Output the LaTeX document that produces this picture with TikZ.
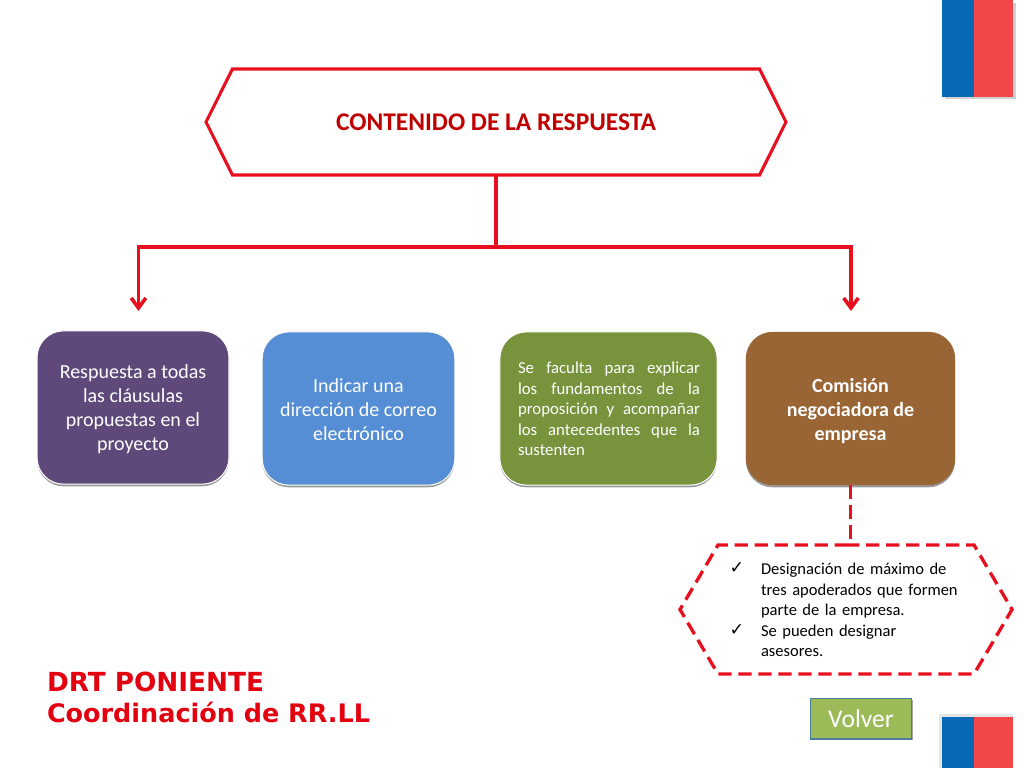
\documentclass[tikz,border=0pt]{standalone}
\usepackage{fontspec}
\setmainfont{Carlito}
\newfontfamily\checkfont{DejaVu Sans}
\newfontfamily\footfont{DejaVu Sans}
\usetikzlibrary{arrows.meta,shadows,shapes.symbols}
\definecolor{RespRed}{HTML}{E8101E}
\definecolor{RespTitle}{HTML}{C00000}
\definecolor{RespFoot}{HTML}{E3000F}
\definecolor{RespPurple}{HTML}{5F497A}
\definecolor{RespBlue}{HTML}{558ED5}
\definecolor{RespGreen}{HTML}{77933C}
\definecolor{RespBrown}{HTML}{996535}
\definecolor{RespVolver}{HTML}{9BBB59}
\definecolor{RespVolverEdge}{HTML}{4A7E9B}
\definecolor{FlagBlue}{HTML}{0569B5}
\definecolor{FlagRed}{HTML}{F24649}
\tikzset{
    resp/diagram/.style={
        x=0.75pt, y=-0.75pt,
        line cap=butt,
        every node/.style={inner sep=0pt, outer sep=0pt}
    },
    resp/hexa/.style={
        shape=signal, signal to=west and east, draw=RespRed,
        line width=2.3pt, fill=white
    },
    resp/link/.style={draw=RespRed, line width=2.3pt},
    resp/arrow/.style={
        resp/link, -{Straight Barb[length=7.5pt, width=11pt, line width=2.7pt]}
    },
    resp/dash/.style={draw=RespRed, line width=2.5pt, dash pattern=on 10pt off 5pt},
    resp/card/.style={
        rounded corners=20pt, draw=white, line width=0.8pt,
        drop shadow={shadow xshift=0pt, shadow yshift=-1.6pt, opacity=0.4, fill=black},
        text=white, font=\fontsize{15pt}{18pt}\selectfont, align=center
    },
    resp/check/.style={font=\checkfont\fontsize{13pt}{14pt}\selectfont},
    resp/foot/.style={anchor=west, text=RespFoot, font=\footfont\fontsize{#1}{22pt}\selectfont\bfseries},
    resp/flag/.style={minimum height=#1*0.75pt, anchor=north west},
    resp/blue/.style={fill=FlagBlue, minimum width=24pt},
    resp/red/.style={fill=FlagRed, minimum width=29.25pt}
}
\begin{document}
\begin{tikzpicture}[resp/diagram]
    \useasboundingbox (0,0) rectangle (1024,768);
    % banderas
    \fill[black!18] (945,3) rectangle (1016,99);
    \node[resp/flag=96.5, resp/blue] (flagA) at (942,0) {};
    \node[resp/flag=96.5, resp/red] (flagB) at (974,0) {};
    \fill[black!10] (939,714) rectangle (1013,768);
    \node[resp/flag=51, resp/blue] (flagC) at (942,717) {};
    \node[resp/flag=51, resp/red] (flagD) at (974,717) {};
    % titulo
    \node[resp/hexa, minimum width=435pt, minimum height=79.5pt,
        signal pointer angle=127] (titulo) at (496,122) {};
    \node[text=RespTitle, font=\fontsize{19.1pt}{20pt}\selectfont\bfseries] (tituloT) at (496,122)
        {CONTENIDO DE LA RESPUESTA};
    % tarjetas
    \node[resp/card, fill=RespPurple, minimum width=144pt, minimum height=115pt] (respuesta) at (133,407.5)
        {\rule{0pt}{13pt}Respuesta a todas\\las cláusulas\\propuestas en el\\proyecto};
    \node[resp/card, fill=RespBlue, minimum width=144.5pt, minimum height=115pt] (correo) at (358.5,408.5)
        {\rule{0pt}{12.5pt}Indicar una\\dirección de correo\\electrónico};
    \node[resp/card, fill=RespGreen, minimum width=163pt, minimum height=115pt] (faculta) at (608.5,408.5) {};
    \node[text=white, text width=136.5pt, align=justify,
        font=\fontsize{12.6pt}{15.4pt}\selectfont] (facultaT) at (609,409)
        {\hyphenpenalty=10000\relax Se faculta para explicar los fundamentos de la proposición y acompañar los antecedentes que la sustenten};
    \node[resp/card, fill=RespBrown, draw=none, minimum width=157pt, minimum height=115pt,
        font=\fontsize{15pt}{18pt}\selectfont\bfseries] (comision) at (850.5,408.5)
        {\rule{0pt}{14.5pt}Comisión\\negociadora de\\empresa};
    % conectores
    \coordinate (ramal) at (496,247);
    \coordinate (puntaA) at (138.5,311);
    \coordinate (puntaB) at (851,311);
    \draw[resp/link] (titulo.south) -- (ramal);
    \draw[resp/arrow] (ramal) -| (puntaA);
    \draw[resp/arrow] (ramal) -| (puntaB);
    % detalle
    \node[resp/hexa, resp/dash, fill=none, minimum width=249pt, minimum height=96.75pt,
        signal pointer angle=119] (detalle) at (846,609.5) {};
    \draw[resp/dash] (comision.south) -- (comision.south |- detalle.north);
    \node[resp/check] (checkA) at (737,568) {✓};
    \node[resp/check] (checkB) at (737,630) {✓};
    \node[anchor=north west, text width=165pt, align=left,
        font=\fontsize{12.4pt}{15.45pt}\selectfont] (detalleT) at (761,563)
        {Designación de máximo de\\tres apoderados que formen\\parte de la empresa.\\Se pueden designar\\asesores.};
    % pie
    \node[resp/foot=19.7pt] (drt) at (47,682) {DRT PONIENTE};
    \node[resp/foot=19.1pt] (rrll) at (47,712) {Coordinación de RR.LL};
    \node[fill=RespVolver, draw=RespVolverEdge, line width=1pt, text=white,
        minimum width=76pt, minimum height=30.5pt, drop shadow={shadow xshift=0.8pt, shadow yshift=-1.2pt, opacity=0.35, fill=black},
        font=\fontsize{19.2pt}{20pt}\selectfont] (volver) at (861,718.5) {Volver};
\end{tikzpicture}
\end{document}
